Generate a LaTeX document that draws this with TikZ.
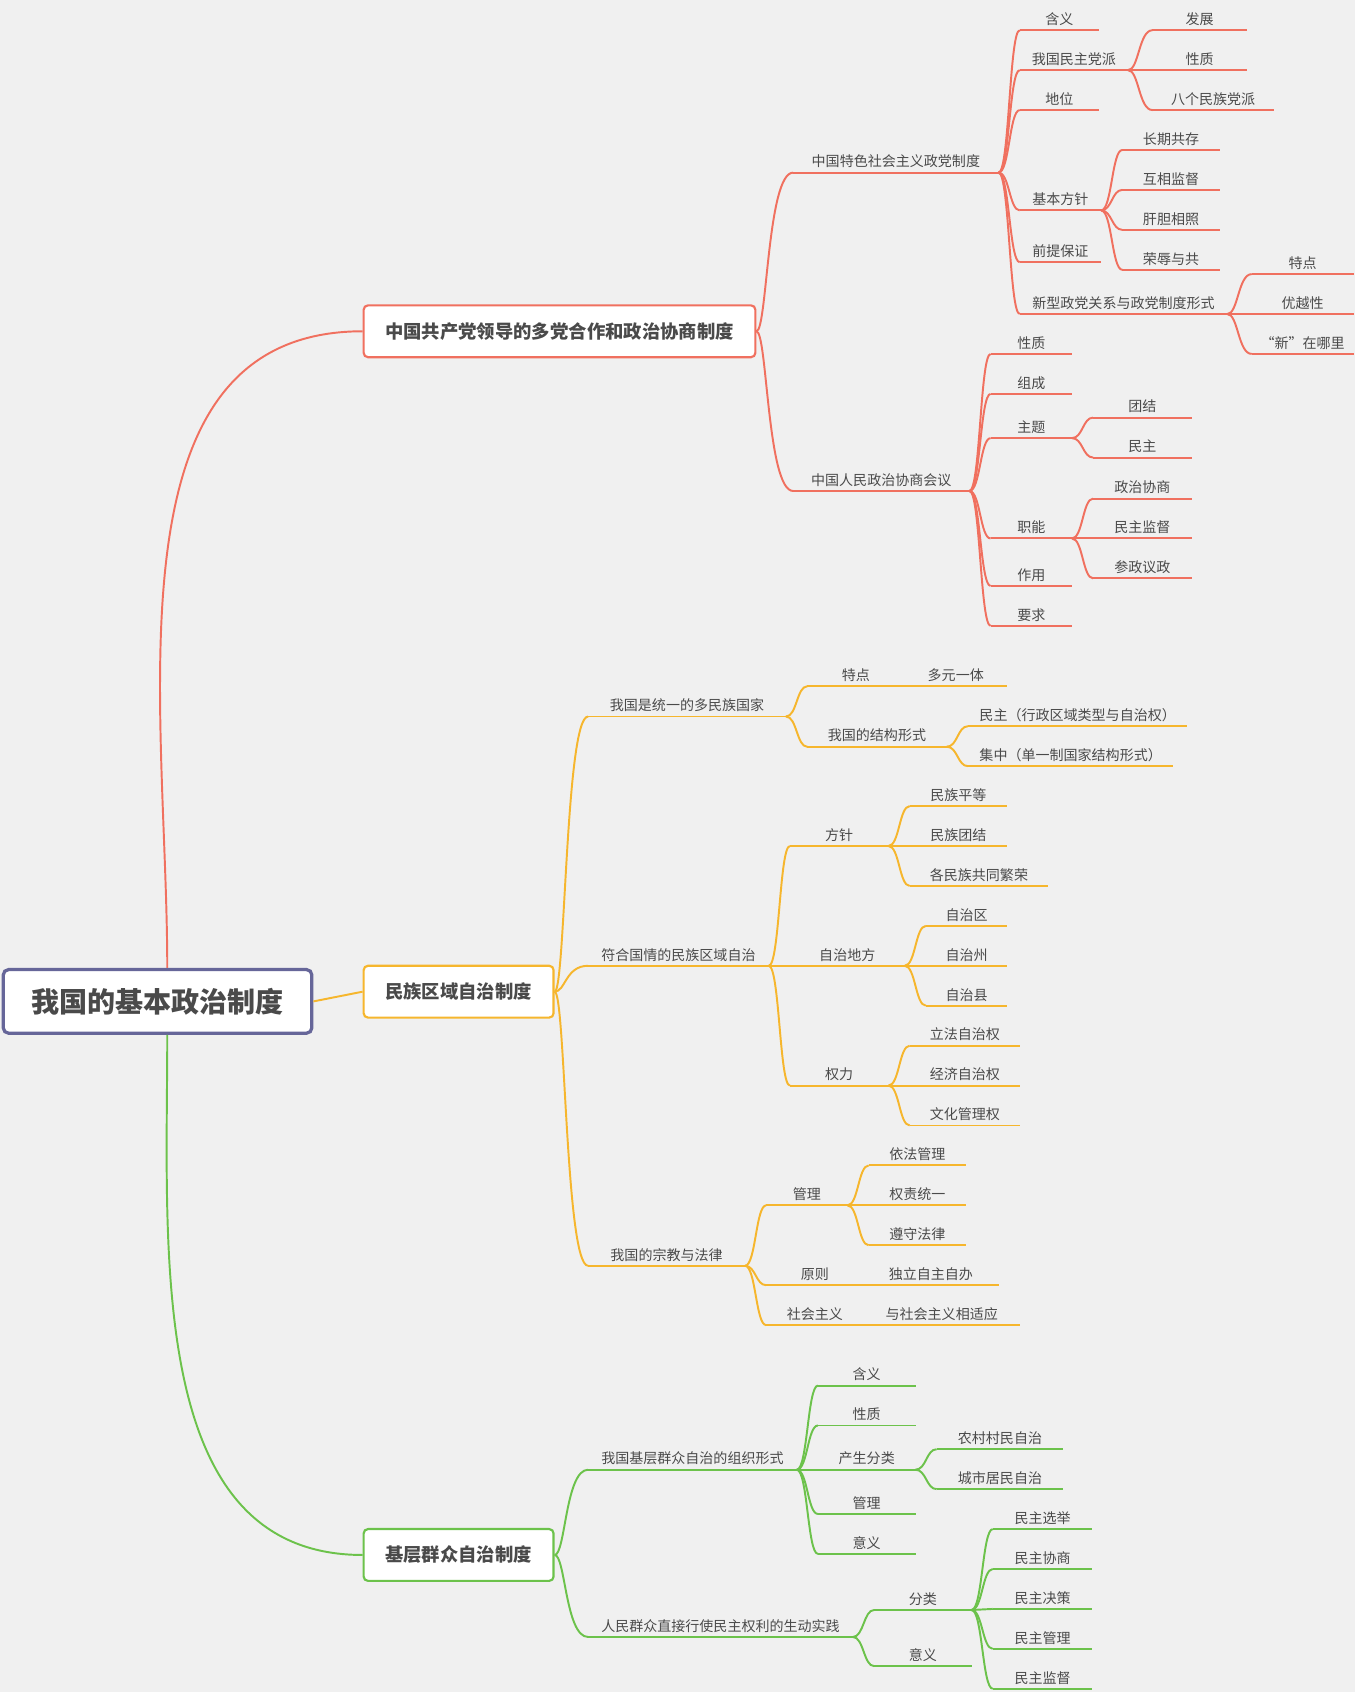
\documentclass[tikz,border=0pt]{standalone}
\usepackage{fontspec}
\setmainfont{Noto Sans CJK SC}
\usetikzlibrary{calc}
\definecolor{rc}{HTML}{F0705F}
\definecolor{oc}{HTML}{F6B62D}
\definecolor{gc}{HTML}{6CC24B}
\definecolor{tx}{HTML}{4A4A4A}
\definecolor{bg}{HTML}{F0F0F0}
\tikzset{
  lf/.style={anchor=south west, inner xsep=0pt, inner ysep=4pt, text=tx,
    font=\fontsize{13}{15}\selectfont, minimum width=#1},
  ul/.style={append after command={(\tikzlastnode.south west) edge[draw=#1, line width=1.8pt] (\tikzlastnode.south east)}},
  rl/.style={lf=#1, ul=rc},
  ol/.style={lf=#1, ul=oc},
  gl/.style={lf=#1, ul=gc},
  br/.style={to path={.. controls ($(\tikztostart)+(10,0)$) and ($(\tikztostart |- \tikztotarget)+(10,0)$) .. (\tikztotarget)}},
  box/.style={draw=#1, fill=white, line width=2pt, rounded corners=4pt, anchor=west,
    minimum height=48pt, inner xsep=20pt, text=tx, font=\fontsize{17}{20}\selectfont\bfseries},
}
\begin{document}
\begin{tikzpicture}[x=1pt, y=-1pt]
  \fill[bg] (0,0) rectangle (1256,1568);
  \useasboundingbox (0,0) rectangle (1256,1568);

  % main boxes
  \node[draw=gray!80!blue, fill=white, line width=3pt, rounded corners=5pt, minimum width=286pt,
    minimum height=59pt, text=tx, font=\fontsize{26}{30}\selectfont\bfseries] (root) at (146,928) {我国的基本政治制度};
  \node[box=rc] (zd) at (336,307) {中国共产党领导的多党合作和政治协商制度};
  \node[box=oc] (mz) at (336,919) {民族区域自治制度};
  \node[box=gc] (jc) at (336,1441) {基层群众自治制度};

  \draw[rc, line width=1.8pt] ([xshift=9pt]root.north) to[out=90, in=180] (zd.west);
  \draw[oc, line width=1.8pt] (root.east) -- (mz.west);
  \draw[gc, line width=1.8pt] ([xshift=9pt]root.south) to[out=-90, in=180] (jc.west);

  % red part
  \node[rl=190] (pa) at (735,160) {中国特色社会主义政党制度};
  \node[rl=163] (pb) at (735,455) {中国人民政治协商会议};
  \node[rl=73] (ha1) at (945,28) {含义};
  \node[rl=100] (ha2) at (945,65) {我国民主党派};
  \node[rl=73] (ha3) at (945,102) {地位};
  \node[rl=75] (ha4) at (945,195) {基本方针};
  \node[rl=75] (ha5) at (945,243) {前提保证};
  \node[rl=192] (ha6) at (945,291) {新型政党关系与政党制度形式};
  \node[rl=87] (hb1) at (1068,28) {发展};
  \node[rl=87] (hb2) at (1068,65) {性质};
  \node[rl=112] (hb3) at (1068,102) {八个民族党派};
  \node[rl=90] (hc1) at (1040,139) {长期共存};
  \node[rl=90] (hc2) at (1040,176) {互相监督};
  \node[rl=90] (hc3) at (1040,213) {肝胆相照};
  \node[rl=90] (hc4) at (1040,250) {荣辱与共};
  \node[rl=94] (hd1) at (1160,254) {特点};
  \node[rl=94] (hd2) at (1160,291) {优越性};
  \node[rl=94] (hd3) at (1160,328) {“新”在哪里};
  \node[rl=75] (he1) at (918,328) {性质};
  \node[rl=75] (he2) at (918,365) {组成};
  \node[rl=75] (he3) at (918,406) {主题};
  \node[rl=75] (he4) at (918,499) {职能};
  \node[rl=75] (he5) at (918,543) {作用};
  \node[rl=75] (he6) at (918,580) {要求};
  \node[rl=91] (hf1) at (1013,387) {团结};
  \node[rl=91] (hf2) at (1013,424) {民主};
  \node[rl=91] (hg1) at (1013,462) {政治协商};
  \node[rl=91] (hg2) at (1013,499) {民主监督};
  \node[rl=91] (hg3) at (1013,536) {参政议政};

  \foreach \c in {pa,pb} \draw[rc, line width=1.8pt] (zd.east) to[br] (\c.south west);
  \foreach \c in {ha1,ha2,ha3,ha4,ha5,ha6} \draw[rc, line width=1.8pt] (pa.south east) to[br] (\c.south west);
  \foreach \c in {hb1,hb2,hb3} \draw[rc, line width=1.8pt] (ha2.south east) to[br] (\c.south west);
  \foreach \c in {hc1,hc2,hc3,hc4} \draw[rc, line width=1.8pt] (ha4.south east) to[br] (\c.south west);
  \foreach \c in {hd1,hd2,hd3} \draw[rc, line width=1.8pt] (ha6.south east) to[br] (\c.south west);
  \foreach \c in {he1,he2,he3,he4,he5,he6} \draw[rc, line width=1.8pt] (pb.south east) to[br] (\c.south west);
  \foreach \c in {hf1,hf2} \draw[rc, line width=1.8pt] (he3.south east) to[br] (\c.south west);
  \foreach \c in {hg1,hg2,hg3} \draw[rc, line width=1.8pt] (he4.south east) to[br] (\c.south west);

  % orange part
  \node[ol=183] (pc) at (545,664) {我国是统一的多民族国家};
  \node[ol=167] (pd) at (545,895) {符合国情的民族区域自治};
  \node[ol=145] (pe) at (545,1173) {我国的宗教与法律};
  \node[ol=90] (ma1) at (748,636) {特点};
  \node[ol=129] (ma2) at (748,692) {我国的结构形式};
  \node[ol=95] (mb1) at (838,636) {多元一体};
  \node[ol=203] (mb2) at (897,673) {民主（行政区域类型与自治权）};
  \node[ol=190] (mb3) at (897,710) {集中（单一制国家结构形式）};
  \node[ol=91] (mc1) at (732,784) {方针};
  \node[ol=106] (mc2) at (732,895) {自治地方};
  \node[ol=91] (mc3) at (732,1006) {权力};
  \node[ol=90] (md1) at (843,747) {民族平等};
  \node[ol=90] (md2) at (843,784) {民族团结};
  \node[ol=128] (md3) at (843,821) {各民族共同繁荣};
  \node[ol=75] (me1) at (858,858) {自治区};
  \node[ol=75] (me2) at (858,895) {自治州};
  \node[ol=75] (me3) at (858,932) {自治县};
  \node[ol=102] (mf1) at (843,969) {立法自治权};
  \node[ol=102] (mf2) at (843,1006) {经济自治权};
  \node[ol=102] (mf3) at (843,1043) {文化管理权};
  \node[ol=75] (mg1) at (710,1117) {管理};
  \node[ol=90] (mg2) at (710,1191) {原则};
  \node[ol=90] (mg3) at (710,1228) {社会主义};
  \node[ol=90] (mh1) at (805,1080) {依法管理};
  \node[ol=90] (mh2) at (805,1117) {权责统一};
  \node[ol=90] (mh3) at (805,1154) {遵守法律};
  \node[ol=125] (mh4) at (800,1191) {独立自主自办};
  \node[ol=145] (mh5) at (800,1228) {与社会主义相适应};

  \foreach \c in {pc,pd,pe} \draw[oc, line width=1.8pt] (mz.east) to[br] (\c.south west);
  \foreach \c in {ma1,ma2} \draw[oc, line width=1.8pt] (pc.south east) to[br] (\c.south west);
  \foreach \c in {mb2,mb3} \draw[oc, line width=1.8pt] (ma2.south east) to[br] (\c.south west);
  \foreach \c in {mc1,mc2,mc3} \draw[oc, line width=1.8pt] (pd.south east) to[br] (\c.south west);
  \foreach \c in {md1,md2,md3} \draw[oc, line width=1.8pt] (mc1.south east) to[br] (\c.south west);
  \foreach \c in {me1,me2,me3} \draw[oc, line width=1.8pt] (mc2.south east) to[br] (\c.south west);
  \foreach \c in {mf1,mf2,mf3} \draw[oc, line width=1.8pt] (mc3.south east) to[br] (\c.south west);
  \foreach \c in {mg1,mg2,mg3} \draw[oc, line width=1.8pt] (pe.south east) to[br] (\c.south west);
  \foreach \c in {mh1,mh2,mh3} \draw[oc, line width=1.8pt] (mg1.south east) to[br] (\c.south west);

  % green part
  \node[gl=193] (pf) at (545,1362) {我国基层群众自治的组织形式};
  \node[gl=245] (pg) at (545,1517) {人民群众直接行使民主权利的生动实践};
  \node[gl=90] (ja1) at (758,1284) {含义};
  \node[gl=90] (ja2) at (758,1321) {性质};
  \node[gl=90] (ja3) at (758,1362) {产生分类};
  \node[gl=90] (ja4) at (758,1403) {管理};
  \node[gl=90] (ja5) at (758,1440) {意义};
  \node[gl=117] (jb1) at (868,1343) {农村村民自治};
  \node[gl=117] (jb2) at (868,1380) {城市居民自治};
  \node[gl=90] (jc1) at (810,1492) {分类};
  \node[gl=90] (jc2) at (810,1544) {意义};
  \node[gl=92] (jd1) at (920,1417) {民主选举};
  \node[gl=92] (jd2) at (920,1454) {民主协商};
  \node[gl=92] (jd3) at (920,1491) {民主决策};
  \node[gl=92] (jd4) at (920,1528) {民主管理};
  \node[gl=92] (jd5) at (920,1565) {民主监督};

  \foreach \c in {pf,pg} \draw[gc, line width=1.8pt] (jc.east) to[br] (\c.south west);
  \foreach \c in {ja1,ja2,ja3,ja4,ja5} \draw[gc, line width=1.8pt] (pf.south east) to[br] (\c.south west);
  \foreach \c in {jb1,jb2} \draw[gc, line width=1.8pt] (ja3.south east) to[br] (\c.south west);
  \foreach \c in {jc1,jc2} \draw[gc, line width=1.8pt] (pg.south east) to[br] (\c.south west);
  \foreach \c in {jd1,jd2,jd3,jd4,jd5} \draw[gc, line width=1.8pt] (jc1.south east) to[br] (\c.south west);
\end{tikzpicture}
\end{document}
